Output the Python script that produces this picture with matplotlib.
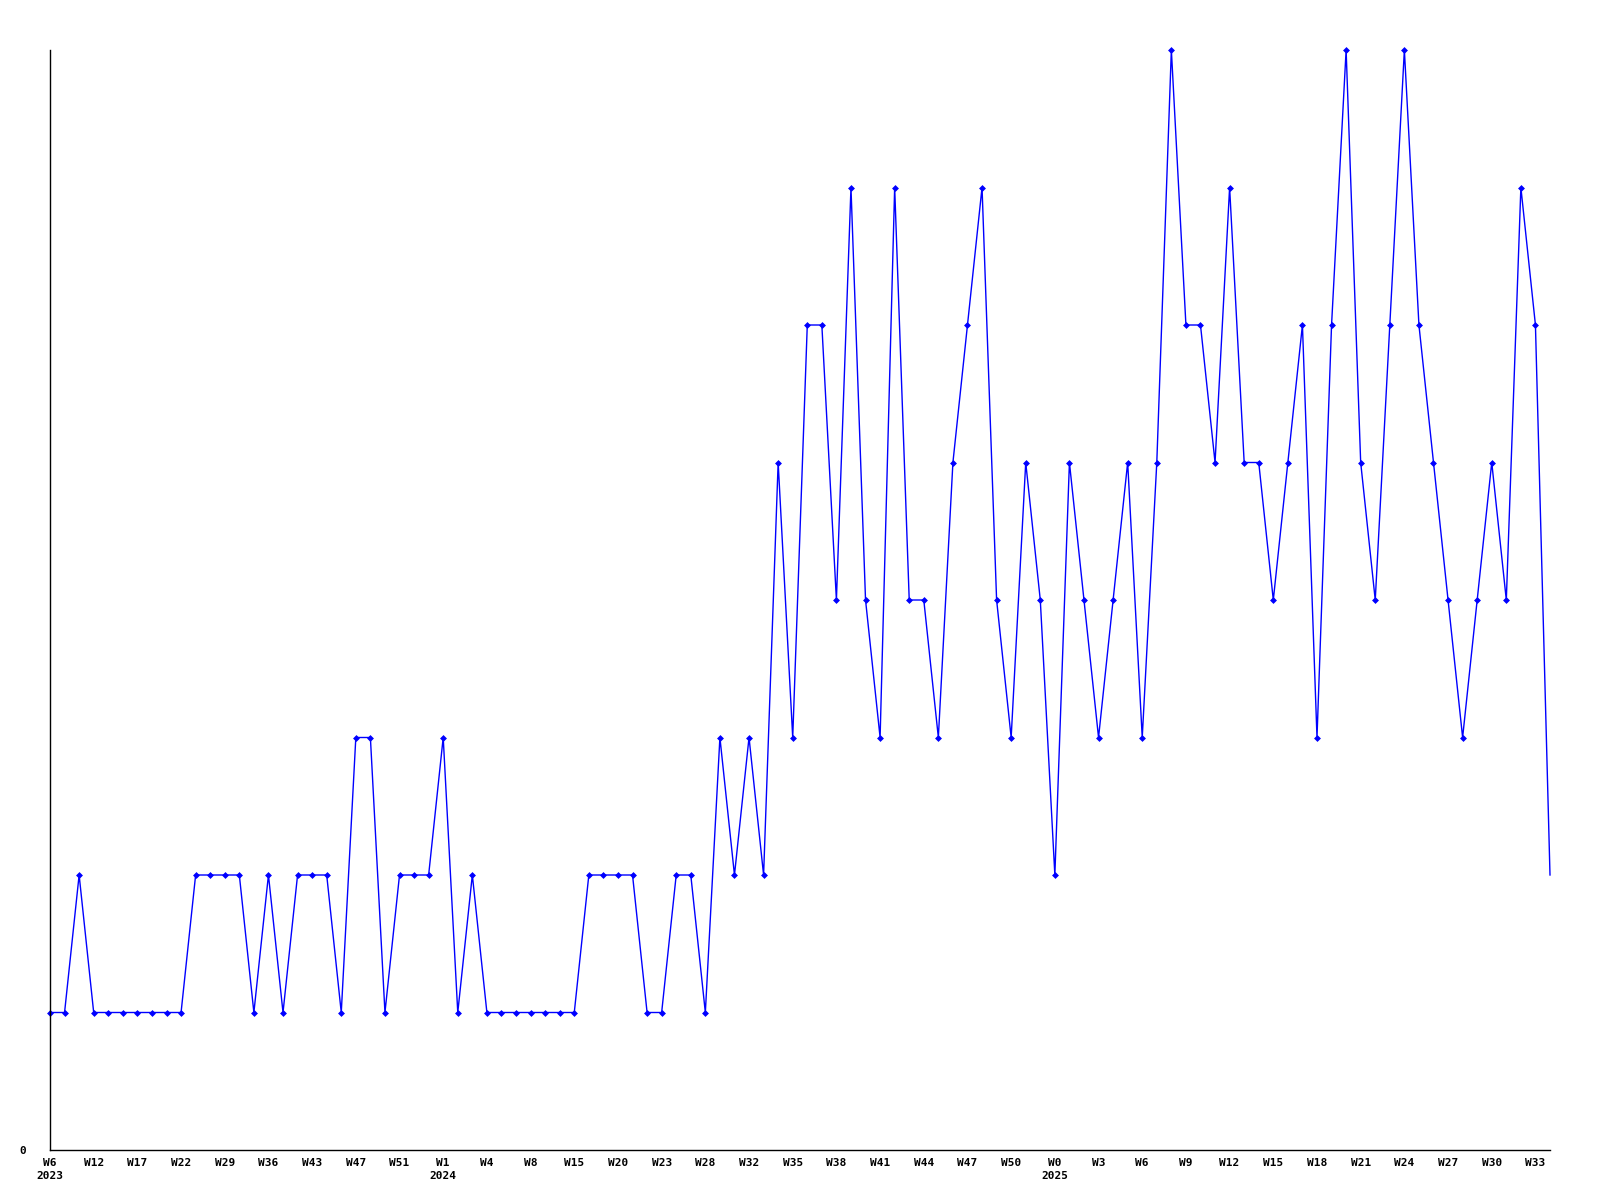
import numpy as np
import matplotlib
matplotlib.use("Agg")
import matplotlib.pyplot as plt

# weekly counts, one point per week
counts = [
    1, 1, 2, 1, 1, 1, 1, 1, 1, 1,
    2, 2, 2, 2, 1, 2, 1, 2, 2, 2,
    1, 3, 3, 1, 2, 2, 2, 3, 1, 2,
    1, 1, 1, 1, 1, 1, 1, 2, 2, 2,
    2, 1, 1, 2, 2, 1, 3, 2, 3, 2,
    5, 3, 6, 6, 4, 7, 4, 3, 7, 4,
    4, 3, 5, 6, 7, 4, 3, 5, 4, 2,
    5, 4, 3, 4, 5, 3, 5, 8, 6, 6,
    5, 7, 5, 5, 4, 5, 6, 3, 6, 8,
    5, 4, 6, 8, 6, 5, 4, 3, 4, 5,
    4, 7, 6, 2,
]

# a label every third week
tick_labels = [
    "W6\n2023", "W12", "W17", "W22", "W29", "W36", "W43", "W47", "W51",
    "W1\n2024", "W4", "W8", "W15", "W20", "W23", "W28", "W32", "W35",
    "W38", "W41", "W44", "W47", "W50", "W0\n2025", "W3", "W6", "W9",
    "W12", "W15", "W18", "W21", "W24", "W27", "W30", "W33",
]
tick_step = 3

x = np.arange(len(counts))

fig = plt.figure(figsize=(16, 12), dpi=100)
ax = fig.add_axes([50 / 1600, 50 / 1200, 1500 / 1600, 1100 / 1200])

# the last (still running) week gets no marker
ax.plot(x, counts, color="#0000ff", linewidth=1.0, marker="D", markersize=3,
        markeredgewidth=0.5, markevery=list(range(len(counts) - 1)), clip_on=False)

ax.set_xlim(0, len(counts) - 1)
ax.set_ylim(0, max(counts))

ax.set_xticks(x[::tick_step][:len(tick_labels)])
ax.set_xticklabels(tick_labels, fontsize=8, fontweight="bold",
                   family="DejaVu Sans Mono", linespacing=1.35)
ax.set_yticks([0])
ax.set_yticklabels(["0"], fontsize=8, fontweight="bold", family="DejaVu Sans Mono")
ax.tick_params(axis="both", length=0)
ax.tick_params(axis="x", pad=6)
ax.tick_params(axis="y", pad=17)

for side in ("top", "right"):
    ax.spines[side].set_visible(False)
for side in ("left", "bottom"):
    ax.spines[side].set_linewidth(1.0)
    ax.spines[side].set_color("black")

fig.savefig("out.png", dpi=100, facecolor="white")
